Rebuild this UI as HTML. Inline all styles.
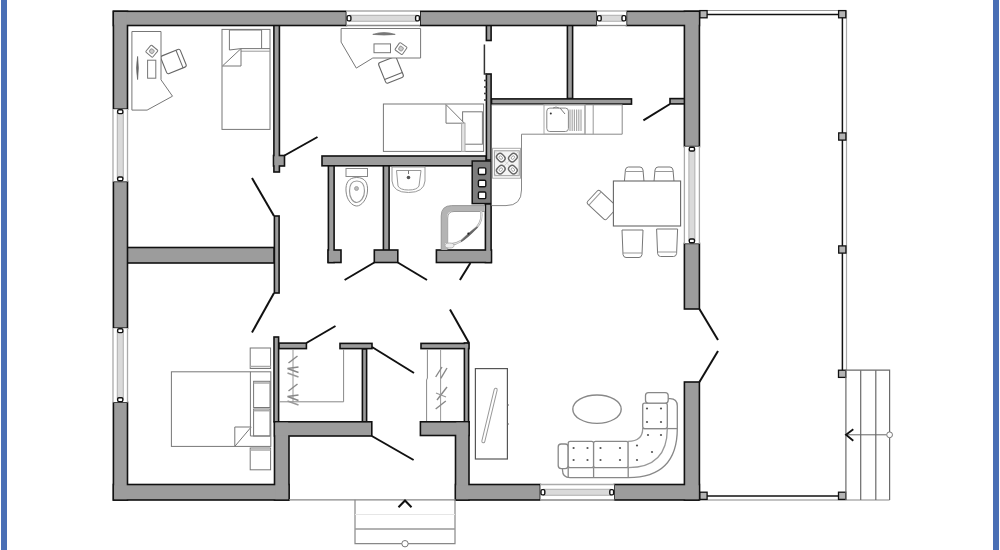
<!DOCTYPE html>
<html><head><meta charset="utf-8"><style>
html,body{margin:0;padding:0;background:#fff;}
body{width:1000px;height:550px;overflow:hidden;position:relative;font-family:"Liberation Sans",sans-serif;}
.bl{position:absolute;top:0;left:1px;width:6px;height:550px;background:#4a6fb5;}
.br{position:absolute;top:0;left:993px;width:6px;height:550px;background:#4a6fb5;}
svg{position:absolute;left:0;top:0;}
</style></head><body>
<div class="bl"></div><div class="br"></div>
<svg width="1000" height="550" viewBox="0 0 1000 550"><g stroke="#111" stroke-width="3.2" fill="#111" stroke-linejoin="miter"><rect x="114.2" y="12.1" width="231.5" height="12.6"/><rect x="420.8" y="12.1" width="175.2" height="12.6"/><rect x="627.2" y="12.1" width="71.4" height="12.6"/><rect x="114.2" y="12.1" width="12.5" height="96.3"/><rect x="114.2" y="182.2" width="12.5" height="145.2"/><rect x="114.2" y="403.0" width="12.5" height="96.2"/><rect x="114.2" y="485.3" width="174.0" height="13.9"/><rect x="275.3" y="422.6" width="12.9" height="76.6"/><rect x="275.3" y="422.6" width="95.7" height="12.6"/><rect x="421.2" y="422.6" width="47.0" height="12.1"/><rect x="456.3" y="422.6" width="11.9" height="76.6"/><rect x="456.3" y="485.3" width="83.3" height="13.9"/><rect x="615.0" y="485.3" width="83.6" height="13.9"/><rect x="685.2" y="12.1" width="13.4" height="133.7"/><rect x="685.2" y="244.2" width="13.4" height="64.0"/><rect x="685.2" y="382.8" width="13.4" height="116.4"/><rect x="274.7" y="26.3" width="3.9" height="144.9"/><rect x="274.3" y="156.3" width="9.4" height="8.9"/><rect x="275.2" y="216.8" width="3.1" height="75.4"/><rect x="128.3" y="248.3" width="144.9" height="13.9"/><rect x="274.8" y="337.8" width="3.0" height="83.2"/><rect x="279.8" y="343.9" width="25.8" height="3.9"/><rect x="340.8" y="344.2" width="30.4" height="3.6"/><rect x="363.2" y="349.8" width="2.6" height="71.2"/><rect x="421.8" y="344.2" width="46.4" height="3.6"/><rect x="465.2" y="343.8" width="2.6" height="77.2"/><rect x="322.8" y="156.8" width="162.4" height="8.2"/><rect x="329.2" y="166.6" width="4.1" height="95.1"/><rect x="328.8" y="250.8" width="11.4" height="10.9"/><rect x="384.2" y="166.6" width="4.1" height="82.6"/><rect x="375.1" y="250.8" width="21.9" height="10.9"/><rect x="486.2" y="204.6" width="4.1" height="57.1"/><rect x="437.2" y="250.8" width="53.5" height="10.9"/><rect x="487.2" y="26.3" width="3.1" height="13.4"/><rect x="487.2" y="74.8" width="3.1" height="84.4"/><rect x="492.3" y="99.7" width="138.4" height="3.6"/><rect x="568.2" y="26.3" width="3.6" height="71.4"/><rect x="670.8" y="99.4" width="12.8" height="3.7"/></g><g fill="#9c9c9c"><rect x="114.2" y="12.1" width="231.5" height="12.6"/><rect x="420.8" y="12.1" width="175.2" height="12.6"/><rect x="627.2" y="12.1" width="71.4" height="12.6"/><rect x="114.2" y="12.1" width="12.5" height="96.3"/><rect x="114.2" y="182.2" width="12.5" height="145.2"/><rect x="114.2" y="403.0" width="12.5" height="96.2"/><rect x="114.2" y="485.3" width="174.0" height="13.9"/><rect x="275.3" y="422.6" width="12.9" height="76.6"/><rect x="275.3" y="422.6" width="95.7" height="12.6"/><rect x="421.2" y="422.6" width="47.0" height="12.1"/><rect x="456.3" y="422.6" width="11.9" height="76.6"/><rect x="456.3" y="485.3" width="83.3" height="13.9"/><rect x="615.0" y="485.3" width="83.6" height="13.9"/><rect x="685.2" y="12.1" width="13.4" height="133.7"/><rect x="685.2" y="244.2" width="13.4" height="64.0"/><rect x="685.2" y="382.8" width="13.4" height="116.4"/><rect x="274.7" y="26.3" width="3.9" height="144.9"/><rect x="274.3" y="156.3" width="9.4" height="8.9"/><rect x="275.2" y="216.8" width="3.1" height="75.4"/><rect x="128.3" y="248.3" width="144.9" height="13.9"/><rect x="274.8" y="337.8" width="3.0" height="83.2"/><rect x="279.8" y="343.9" width="25.8" height="3.9"/><rect x="340.8" y="344.2" width="30.4" height="3.6"/><rect x="363.2" y="349.8" width="2.6" height="71.2"/><rect x="421.8" y="344.2" width="46.4" height="3.6"/><rect x="465.2" y="343.8" width="2.6" height="77.2"/><rect x="322.8" y="156.8" width="162.4" height="8.2"/><rect x="329.2" y="166.6" width="4.1" height="95.1"/><rect x="328.8" y="250.8" width="11.4" height="10.9"/><rect x="384.2" y="166.6" width="4.1" height="82.6"/><rect x="375.1" y="250.8" width="21.9" height="10.9"/><rect x="486.2" y="204.6" width="4.1" height="57.1"/><rect x="437.2" y="250.8" width="53.5" height="10.9"/><rect x="487.2" y="26.3" width="3.1" height="13.4"/><rect x="487.2" y="74.8" width="3.1" height="84.4"/><rect x="492.3" y="99.7" width="138.4" height="3.6"/><rect x="568.2" y="26.3" width="3.6" height="71.4"/><rect x="670.8" y="99.4" width="12.8" height="3.7"/></g><rect x="472.2" y="161" width="19" height="42.6" fill="#7c7c7c" stroke="#111" stroke-width="1.5"/><rect x="478.4" y="167.9" width="7.4" height="6.6" rx="1.2" fill="#fff" stroke="#111" stroke-width="1.4"/><rect x="478.4" y="180.2" width="7.4" height="6.6" rx="1.2" fill="#fff" stroke="#111" stroke-width="1.4"/><rect x="478.4" y="192" width="7.4" height="6.6" rx="1.2" fill="#fff" stroke="#111" stroke-width="1.4"/><rect x="346.5" y="10.25" width="73.5" height="16.0" fill="#fff"/><line x1="346.5" y1="11" x2="420" y2="11" stroke="#aaa" stroke-width="1.3"/><line x1="346.5" y1="25.5" x2="420" y2="25.5" stroke="#888" stroke-width="1.3"/><rect x="349.5" y="15.25" width="67.5" height="6" fill="#dadada" stroke="#a8a8a8" stroke-width="0.9"/><rect x="347.1" y="15.65" width="3.8" height="5.2" rx="1.3" fill="#fff" stroke="#111" stroke-width="1.4"/><rect x="415.6" y="15.65" width="3.8" height="5.2" rx="1.3" fill="#fff" stroke="#111" stroke-width="1.4"/><rect x="596.8" y="10.25" width="29.600000000000023" height="16.0" fill="#fff"/><line x1="596.8" y1="11" x2="626.4" y2="11" stroke="#aaa" stroke-width="1.3"/><line x1="596.8" y1="25.5" x2="626.4" y2="25.5" stroke="#888" stroke-width="1.3"/><rect x="599.8" y="15.25" width="23.600000000000023" height="6" fill="#dadada" stroke="#a8a8a8" stroke-width="0.9"/><rect x="597.4" y="15.65" width="3.8" height="5.2" rx="1.3" fill="#fff" stroke="#111" stroke-width="1.4"/><rect x="622.0" y="15.65" width="3.8" height="5.2" rx="1.3" fill="#fff" stroke="#111" stroke-width="1.4"/><rect x="540.4" y="483.75" width="73.80000000000007" height="17.0" fill="#fff"/><line x1="540.4" y1="484.5" x2="614.2" y2="484.5" stroke="#aaa" stroke-width="1.3"/><line x1="540.4" y1="500" x2="614.2" y2="500" stroke="#888" stroke-width="1.3"/><rect x="543.4" y="489.25" width="67.80000000000007" height="6" fill="#dadada" stroke="#a8a8a8" stroke-width="0.9"/><rect x="541.0" y="489.65" width="3.8" height="5.2" rx="1.3" fill="#fff" stroke="#111" stroke-width="1.4"/><rect x="609.8000000000001" y="489.65" width="3.8" height="5.2" rx="1.3" fill="#fff" stroke="#111" stroke-width="1.4"/><rect x="112.25" y="109.2" width="16.0" height="72.2" fill="#fff"/><line x1="113" y1="109.2" x2="113" y2="181.4" stroke="#aaa" stroke-width="1.3"/><line x1="127.5" y1="109.2" x2="127.5" y2="181.4" stroke="#aaa" stroke-width="1.3"/><rect x="117.25" y="112.2" width="6" height="66.2" fill="#dadada" stroke="#a8a8a8" stroke-width="0.9"/><rect x="117.65" y="109.8" width="5.2" height="3.8" rx="1.3" fill="#fff" stroke="#111" stroke-width="1.4"/><rect x="117.65" y="177.0" width="5.2" height="3.8" rx="1.3" fill="#fff" stroke="#111" stroke-width="1.4"/><rect x="112.25" y="328.2" width="16.0" height="74.0" fill="#fff"/><line x1="113" y1="328.2" x2="113" y2="402.2" stroke="#aaa" stroke-width="1.3"/><line x1="127.5" y1="328.2" x2="127.5" y2="402.2" stroke="#aaa" stroke-width="1.3"/><rect x="117.25" y="331.2" width="6" height="68.0" fill="#dadada" stroke="#a8a8a8" stroke-width="0.9"/><rect x="117.65" y="328.8" width="5.2" height="3.8" rx="1.3" fill="#fff" stroke="#111" stroke-width="1.4"/><rect x="117.65" y="397.8" width="5.2" height="3.8" rx="1.3" fill="#fff" stroke="#111" stroke-width="1.4"/><rect x="683.65" y="146.6" width="16.5" height="96.80000000000001" fill="#fff"/><line x1="684.4" y1="146.6" x2="684.4" y2="243.4" stroke="#aaa" stroke-width="1.3"/><line x1="699.4" y1="146.6" x2="699.4" y2="243.4" stroke="#aaa" stroke-width="1.3"/><rect x="688.9" y="149.6" width="6" height="90.80000000000001" fill="#dadada" stroke="#a8a8a8" stroke-width="0.9"/><rect x="689.3" y="147.2" width="5.2" height="3.8" rx="1.3" fill="#fff" stroke="#111" stroke-width="1.4"/><rect x="689.3" y="239.0" width="5.2" height="3.8" rx="1.3" fill="#fff" stroke="#111" stroke-width="1.4"/><g stroke="#111" stroke-width="2" stroke-linecap="butt"><line x1="284.5" y1="155.5" x2="317.5" y2="137"/><line x1="274" y1="216" x2="252" y2="178"/><line x1="274" y1="293" x2="252" y2="332.5"/><line x1="306.4" y1="343" x2="335.5" y2="326"/><line x1="372" y1="347" x2="414" y2="373"/><line x1="469" y1="343" x2="450" y2="309.6"/><line x1="374.3" y1="262.5" x2="344.6" y2="280"/><line x1="397.8" y1="262.5" x2="427" y2="280"/><line x1="470.4" y1="263" x2="459.9" y2="280"/><line x1="371.8" y1="436" x2="413.6" y2="460"/><line x1="670" y1="104" x2="643.4" y2="120.3"/><line x1="699.4" y1="309" x2="718" y2="340"/><line x1="699.4" y1="382" x2="718" y2="351"/></g><polyline points="484.4,44.5 484.4,74 487,74" fill="none" stroke="#333" stroke-width="1.5"/><g stroke="#444" stroke-width="1.6"><line x1="484" y1="80.5" x2="486.5" y2="80.5"/><line x1="484" y1="87" x2="486.5" y2="87"/><line x1="484" y1="93.5" x2="486.5" y2="93.5"/><line x1="484" y1="100" x2="486.5" y2="100"/></g><g transform="translate(173.5,61.5) rotate(-22)"><rect x="-10.5" y="-9.5" width="21.0" height="19.0" rx="2" fill="#fff" stroke="#666" stroke-width="1.1" /><line x1="6.5" y1="-9.5" x2="6.5" y2="9.5" stroke="#666" stroke-width="1" /></g><polygon points="131.9,31.5 161,31.5 161,79.8 172.5,96.2 147.1,110.1 131.9,110.1" fill="#fff" stroke="#777" stroke-width="1" /><path d="M137.6,56.5 Q135.6,68 137.6,79.5 Q139,68 137.6,56.5Z" fill="#666" stroke="#666" stroke-width="0.8"/><rect x="147.6" y="60.2" width="8.2" height="18.0" rx="0" fill="#fff" stroke="#777" stroke-width="1" /><g transform="translate(151.8,51.2) rotate(40)"><rect x="-4.5" y="-4.5" width="9.0" height="9.0" rx="1" fill="#fff" stroke="#777" stroke-width="1" /><rect x="-2" y="-2" width="4" height="4" rx="1" fill="#ccc" stroke="#999" stroke-width="1" /></g><rect x="222" y="29.4" width="48" height="100.0" rx="0" fill="#fff" stroke="#777" stroke-width="1" /><polyline points="241,48.6 229.4,50 229.4,30 261.6,30 261.6,48.6" fill="none" stroke="#777" stroke-width="1" /><polyline points="241,48.6 270,48.6" fill="none" stroke="#777" stroke-width="1" /><polyline points="241,51.2 270,51.2" fill="none" stroke="#999" stroke-width="1" /><polygon points="222.4,66 241,48.6 241,66" fill="#fff" stroke="#777" stroke-width="1" /><g transform="translate(391,70) rotate(-22)"><rect x="-9.5" y="-11" width="19.0" height="22" rx="2" fill="#fff" stroke="#666" stroke-width="1.1" /><line x1="-9.5" y1="6.5" x2="9.5" y2="6.5" stroke="#666" stroke-width="1" /></g><polygon points="341.1,28.5 420.6,28.5 420.6,58 372.8,58 356.3,68.1 341.1,42.1" fill="#fff" stroke="#777" stroke-width="1" /><path d="M372.8,34.4 Q384,30.8 395.2,34.4 Q384,35.6 372.8,34.4Z" fill="#777" stroke="#777" stroke-width="0.8"/><rect x="374" y="43.9" width="16.5" height="8.8" rx="0" fill="#fff" stroke="#777" stroke-width="1" /><g transform="translate(401,48.6) rotate(35)"><rect x="-4.5" y="-4.5" width="9.0" height="9.0" rx="1" fill="#fff" stroke="#777" stroke-width="1" /><rect x="-2" y="-2" width="4" height="4" rx="1" fill="#ccc" stroke="#999" stroke-width="1" /></g><rect x="383.4" y="104" width="100.2" height="47.4" rx="0" fill="#fff" stroke="#777" stroke-width="1" /><rect x="462.6" y="111.8" width="19.8" height="32.4" rx="0" fill="#fff" stroke="#777" stroke-width="1" /><polygon points="446,104.6 446,123.2 464.4,123.2" fill="#fff" stroke="#777" stroke-width="1" /><rect x="461.6" y="123.2" width="3.4" height="28.2" rx="0" fill="#e4e4e4" stroke="#aaa" stroke-width="1" /><rect x="250.2" y="348" width="20.4" height="20.5" rx="0" fill="#fff" stroke="#777" stroke-width="1" /><line x1="250.2" y1="366.5" x2="270.6" y2="366.5" stroke="#aaa" stroke-width="1.5" /><rect x="250.2" y="448" width="20.4" height="21.8" rx="0" fill="#fff" stroke="#777" stroke-width="1" /><line x1="250.2" y1="450" x2="270.6" y2="450" stroke="#aaa" stroke-width="1.5" /><rect x="171.4" y="371.8" width="99.4" height="74.6" rx="0" fill="#fff" stroke="#777" stroke-width="1" /><rect x="253.6" y="381.3" width="16.4" height="26.2" rx="0" fill="#fff" stroke="#777" stroke-width="1" /><line x1="253.6" y1="383" x2="270" y2="383" stroke="#aaa" stroke-width="1.5" /><rect x="253.6" y="409" width="16.4" height="27" rx="0" fill="#fff" stroke="#777" stroke-width="1" /><line x1="253.6" y1="410.7" x2="270" y2="410.7" stroke="#aaa" stroke-width="1.5" /><polyline points="250.4,371.8 250.4,436 270,436" fill="none" stroke="#777" stroke-width="1" /><polygon points="234.8,427 251.2,427 234.8,446.4" fill="#fff" stroke="#777" stroke-width="1" /><polyline points="279.5,401.8 343.6,401.8 343.6,349.5" fill="none" stroke="#888" stroke-width="1" /><line x1="293" y1="349.5" x2="293" y2="401.8" stroke="#999" stroke-width="1" /><polyline points="288.5,363 297.5,356" fill="none" stroke="#888" stroke-width="1.4" /><polyline points="298.5,367 287.5,368.5 298.5,372.5" fill="none" stroke="#888" stroke-width="1.4" /><polyline points="287.5,373 298.5,377" fill="none" stroke="#999" stroke-width="1.4" /><polyline points="288.5,391 297.5,384" fill="none" stroke="#888" stroke-width="1.4" /><polyline points="298.5,395 287.5,396.5 298.5,400.5" fill="none" stroke="#888" stroke-width="1.4" /><polyline points="287.5,401 298.5,405" fill="none" stroke="#999" stroke-width="1.4" /><polyline points="427.4,349.5 427.4,378 426.6,380 426.6,421" fill="none" stroke="#888" stroke-width="1" /><line x1="440.6" y1="349.5" x2="440.6" y2="421" stroke="#999" stroke-width="1" /><polyline points="435.7,377 442,367" fill="none" stroke="#888" stroke-width="1.4" /><polyline points="440.8,378.4 447,368" fill="none" stroke="#888" stroke-width="1.4" /><polyline points="437,400 447,387" fill="none" stroke="#888" stroke-width="1.4" /><polyline points="436,393 446,397" fill="none" stroke="#999" stroke-width="1.3" /><polyline points="435.7,409 445.8,401" fill="none" stroke="#888" stroke-width="1.4" /><rect x="346" y="168.5" width="21.5" height="8.0" rx="0" fill="#fff" stroke="#888" stroke-width="1" /><path d="M356.8,177.5 C365,177.5 368,183 367.5,191 C367,200 361,206 356.8,206 C352,206 346.5,200 346,191 C345.5,183 348.5,177.5 356.8,177.5Z" fill="#fff" stroke="#888" stroke-width="1"/><path d="M356.8,181 C362,181 364.5,185 364.5,191 C364.5,198 360,202.5 356.8,202.5 C353,202.5 349.5,198 349.5,191 C349.5,185 352,181 356.8,181Z" fill="#fff" stroke="#999" stroke-width="1.2"/><circle cx="356.5" cy="188.5" r="2" fill="#bbb" stroke="#999" stroke-width="0.8"/><path d="M392,167 L425,167 L425,181 Q424,192.5 408.5,192.5 Q393,192.5 392,181Z" fill="#fff" stroke="#999" stroke-width="1"/><path d="M396.5,170.5 L421,170.5 L419,186 Q417,190 408.5,190 Q400,190 398,186Z" fill="#fff" stroke="#999" stroke-width="1"/><circle cx="408.5" cy="177.5" r="1.8" fill="#555"/><line x1="408.5" y1="170.5" x2="408.5" y2="174" stroke="#777" stroke-width="1" /><path d="M444.2,250 L444.2,217 Q444.2,208.6 452.6,208.6 L485,208.6" fill="none" stroke="#b4b4b4" stroke-width="6"/><path d="M441.2,250 L441.2,216 Q441.2,205.6 451.6,205.6 L485,205.6" fill="none" stroke="#888" stroke-width="0.8"/><path d="M447.7,250 L447.7,218 Q447.7,211.5 454,211.5 L485,211.5" fill="none" stroke="#888" stroke-width="0.8"/><path d="M481,211 Q483,220 477,227 L461,241 Q453,246 445,243.5" fill="none" stroke="#aaa" stroke-width="2.2"/><path d="M481,211 Q483,220 477,227 L461,241 Q453,246 445,243.5" fill="none" stroke="#fff" stroke-width="0.7"/><path d="M477.5,227 Q471,231 461,241.5 Q467,238 477.5,227Z" fill="#fff" stroke="#666" stroke-width="1.1"/><circle cx="468.4" cy="233.6" r="1.1" fill="#222"/><ellipse cx="449.5" cy="245.5" rx="4.5" ry="2.5" fill="#eee" stroke="#aaa" stroke-width="0.9"/><path d="M491.7,104.8 L622.2,104.8 L622.2,134.2 L521.5,134.2 L521.5,190 Q521.5,205.6 506,205.6 L491.7,205.6" fill="#fff" stroke="#888" stroke-width="1"/><rect x="544" y="104.8" width="41" height="29.4" rx="0" fill="none" stroke="#aaa" stroke-width="1" /><rect x="546.8" y="108.1" width="21.6" height="23.4" rx="3" fill="#fff" stroke="#888" stroke-width="1" /><line x1="570.0" y1="109.5" x2="570.0" y2="131" stroke="#aaa" stroke-width="1.2" /><line x1="572.2" y1="109.5" x2="572.2" y2="131" stroke="#aaa" stroke-width="1.2" /><line x1="574.4" y1="109.5" x2="574.4" y2="131" stroke="#aaa" stroke-width="1.2" /><line x1="576.6" y1="109.5" x2="576.6" y2="131" stroke="#aaa" stroke-width="1.2" /><line x1="578.8" y1="109.5" x2="578.8" y2="131" stroke="#aaa" stroke-width="1.2" /><line x1="581.0" y1="109.5" x2="581.0" y2="131" stroke="#aaa" stroke-width="1.2" /><line x1="585" y1="104.8" x2="585" y2="134.2" stroke="#999" stroke-width="1" /><line x1="593.2" y1="104.8" x2="593.2" y2="134.2" stroke="#999" stroke-width="1" /><circle cx="550.8" cy="113.5" r="1" fill="#333"/><polyline points="553,108 556,107 559,108" fill="none" stroke="#888" stroke-width="1" /><line x1="560" y1="108" x2="565" y2="114" stroke="#777" stroke-width="1" /><rect x="492.5" y="148.3" width="28.0" height="29.9" rx="0" fill="#fff" stroke="#aaa" stroke-width="1" /><rect x="494.4" y="150.8" width="24.8" height="24.9" rx="0" fill="#f4f4f4" stroke="#999" stroke-width="1" /><line x1="494.4" y1="150.8" x2="519.2" y2="175.7" stroke="#ccc" stroke-width="0.8" /><line x1="519.2" y1="150.8" x2="494.4" y2="175.7" stroke="#ccc" stroke-width="0.8" /><g transform="translate(500.8,157.6) rotate(45)"><rect x="-4.4" y="-3.4" width="8.8" height="6.8" rx="3" fill="#fff" stroke="#666" stroke-width="1.4"/><ellipse rx="2" ry="1.4" fill="none" stroke="#999" stroke-width="0.9"/></g><g transform="translate(512.9,157.6) rotate(-45)"><rect x="-4.4" y="-3.4" width="8.8" height="6.8" rx="3" fill="#fff" stroke="#666" stroke-width="1.4"/><ellipse rx="2" ry="1.4" fill="none" stroke="#999" stroke-width="0.9"/></g><g transform="translate(500.8,169.6) rotate(-45)"><rect x="-4.4" y="-3.4" width="8.8" height="6.8" rx="3" fill="#fff" stroke="#666" stroke-width="1.4"/><ellipse rx="2" ry="1.4" fill="none" stroke="#999" stroke-width="0.9"/></g><g transform="translate(512.9,169.6) rotate(45)"><rect x="-4.4" y="-3.4" width="8.8" height="6.8" rx="3" fill="#fff" stroke="#666" stroke-width="1.4"/><ellipse rx="2" ry="1.4" fill="none" stroke="#999" stroke-width="0.9"/></g><path d="M624.4,181.5 L625.4,170 Q625.9,167 628.4,167 L640,167 Q642.5,167 643,170 L644,181.5" fill="#fff" stroke="#777" stroke-width="1"/><line x1="625.4" y1="171.5" x2="643" y2="171.5" stroke="#999" stroke-width="1" /><path d="M654,181.5 L655,170 Q655.5,167 658,167 L670,167 Q672.5,167 673,170 L674,181.5" fill="#fff" stroke="#777" stroke-width="1"/><line x1="655" y1="171.5" x2="673" y2="171.5" stroke="#999" stroke-width="1" /><path d="M622,230 L643,230 L642,254.5 Q641.5,257.5 639,257.5 L626,257.5 Q623.5,257.5 623,254.5 Z" fill="#fff" stroke="#777" stroke-width="1"/><line x1="623" y1="253.0" x2="642" y2="253.0" stroke="#999" stroke-width="1" /><path d="M656.6,229 L677.6,229 L676.6,253.5 Q676.1,256.5 673.6,256.5 L660.6,256.5 Q658.1,256.5 657.6,253.5 Z" fill="#fff" stroke="#777" stroke-width="1"/><line x1="657.6" y1="252.0" x2="676.6" y2="252.0" stroke="#999" stroke-width="1" /><g transform="translate(602,205) rotate(-47)"><rect x="-9" y="-13" width="18" height="26" rx="2" fill="#fff" stroke="#777" stroke-width="1" /><line x1="-9" y1="-9.5" x2="9" y2="-9.5" stroke="#999" stroke-width="1" /></g><rect x="613.4" y="181" width="67.2" height="45" rx="0" fill="#fff" stroke="#666" stroke-width="1.1" /><ellipse cx="597" cy="409.2" rx="24.2" ry="14.2" fill="#fff" stroke="#888" stroke-width="1.4"/><path d="M562.5,457 L562.5,470 Q562.5,477.7 570,477.7 L628.2,477.7 Q677.3,477.7 677.3,428.6 L677.3,406 Q677.3,398.6 670,398.6 L667.3,398.6" fill="#fff" stroke="#888" stroke-width="1.3"/><rect x="558.2" y="444" width="10.0" height="24.6" rx="3" fill="#fff" stroke="#888" stroke-width="1.3" /><rect x="568.2" y="441.4" width="25.4" height="26.3" rx="2" fill="#fff" stroke="#888" stroke-width="1.3" /><rect x="593.6" y="441.4" width="34.6" height="26.3" rx="2" fill="#fff" stroke="#888" stroke-width="1.3" /><path d="M628.2,441.4 Q642.7,441.4 642.7,428.6 L667.3,428.6 Q667.3,467.7 628.2,467.7Z" fill="#fff" stroke="#999" stroke-width="1.3"/><rect x="642.7" y="403.2" width="24.6" height="25.4" rx="2" fill="#fff" stroke="#888" stroke-width="1.3" /><rect x="645.5" y="392.6" width="22.7" height="10.6" rx="3" fill="#fff" stroke="#888" stroke-width="1.3" /><line x1="568.2" y1="467.7" x2="568.2" y2="477.7" stroke="#888" stroke-width="1.3" /><line x1="593.6" y1="467.7" x2="593.6" y2="477.7" stroke="#888" stroke-width="1.3" /><line x1="628.2" y1="467.7" x2="628.2" y2="477.7" stroke="#888" stroke-width="1.3" /><line x1="667.3" y1="428.6" x2="677.3" y2="428.6" stroke="#888" stroke-width="1.3" /><circle cx="573.6" cy="448" r="1.1" fill="#555"/><circle cx="587.5" cy="448" r="1.1" fill="#555"/><circle cx="573.6" cy="460" r="1.1" fill="#555"/><circle cx="587.5" cy="460" r="1.1" fill="#555"/><circle cx="600.5" cy="448" r="1.1" fill="#555"/><circle cx="620" cy="448" r="1.1" fill="#555"/><circle cx="600.5" cy="460" r="1.1" fill="#555"/><circle cx="620" cy="460" r="1.1" fill="#555"/><circle cx="647" cy="408.5" r="1.1" fill="#555"/><circle cx="661" cy="408.5" r="1.1" fill="#555"/><circle cx="647" cy="422" r="1.1" fill="#555"/><circle cx="661" cy="422" r="1.1" fill="#555"/><circle cx="648" cy="435" r="1.1" fill="#555"/><circle cx="661" cy="435" r="1.1" fill="#555"/><circle cx="637" cy="445.5" r="1.1" fill="#555"/><circle cx="652" cy="452" r="1.1" fill="#555"/><circle cx="637" cy="460" r="1.1" fill="#555"/><rect x="475.4" y="368.6" width="32.0" height="90.4" rx="0" fill="#fff" stroke="#555" stroke-width="1.2" /><g transform="translate(489.5,415.5) rotate(13.5)"><rect x="-1.5" y="-28" width="3.0" height="56" rx="1.5" fill="#fff" stroke="#999" stroke-width="1" /></g><line x1="507.4" y1="405" x2="509" y2="405" stroke="#666" stroke-width="1.2" /><line x1="507.4" y1="424" x2="509" y2="424" stroke="#666" stroke-width="1.2" /><line x1="700" y1="10.5" x2="845" y2="10.5" stroke="#999" stroke-width="1.2" /><line x1="704" y1="14.5" x2="842.4" y2="14.5" stroke="#111" stroke-width="1.5" /><line x1="842.4" y1="14" x2="842.4" y2="374" stroke="#111" stroke-width="1.5" /><line x1="846.5" y1="10.5" x2="846.5" y2="370" stroke="#aaa" stroke-width="1.2" /><line x1="704" y1="496" x2="842.4" y2="496" stroke="#111" stroke-width="1.5" /><line x1="699.4" y1="500" x2="889.6" y2="500" stroke="#888" stroke-width="1.2" /><rect x="699.9" y="10.6" width="7.2" height="7.2" rx="0" fill="#b4b4b4" stroke="#111" stroke-width="1.3" /><rect x="838.6" y="10.6" width="7.2" height="7.2" rx="0" fill="#b4b4b4" stroke="#111" stroke-width="1.3" /><rect x="838.6999999999999" y="132.9" width="7.2" height="7.2" rx="0" fill="#b4b4b4" stroke="#111" stroke-width="1.3" /><rect x="838.6999999999999" y="245.9" width="7.2" height="7.2" rx="0" fill="#b4b4b4" stroke="#111" stroke-width="1.3" /><rect x="838.5" y="370.2" width="7.2" height="7.2" rx="0" fill="#b4b4b4" stroke="#111" stroke-width="1.3" /><rect x="699.9" y="492.2" width="7.2" height="7.2" rx="0" fill="#b4b4b4" stroke="#111" stroke-width="1.3" /><rect x="838.5" y="492.2" width="7.2" height="7.2" rx="0" fill="#b4b4b4" stroke="#111" stroke-width="1.3" /><polyline points="845.9,370.2 889.6,370.2 889.6,500" fill="none" stroke="#6a6a6a" stroke-width="1.2" /><line x1="845.9" y1="370.2" x2="845.9" y2="500" stroke="#6a6a6a" stroke-width="1.2" /><line x1="860.7" y1="370.2" x2="860.7" y2="500" stroke="#6a6a6a" stroke-width="1.2" /><line x1="875.8" y1="370.2" x2="875.8" y2="500" stroke="#6a6a6a" stroke-width="1.2" /><line x1="846" y1="434.8" x2="886.6" y2="434.8" stroke="#666" stroke-width="1" /><circle cx="889.6" cy="434.8" r="2.9" fill="#fff" stroke="#777" stroke-width="1"/><polyline points="853.3,429.3 846,434.8 853.3,440.8" fill="none" stroke="#111" stroke-width="1.8" /><line x1="289" y1="499.8" x2="455.5" y2="499.8" stroke="#888" stroke-width="1.2" /><polyline points="355,499.8 355,543.7 455,543.7 455,499.8" fill="none" stroke="#888" stroke-width="1.2" /><line x1="355" y1="514.5" x2="455" y2="514.5" stroke="#e6e6e6" stroke-width="1" /><line x1="355" y1="529" x2="455" y2="529" stroke="#999" stroke-width="1.4" /><circle cx="405" cy="543.7" r="3.2" fill="#fff" stroke="#777" stroke-width="1"/><polyline points="398.5,507.3 405,500.5 411.5,507.3" fill="none" stroke="#111" stroke-width="2" /></svg>
</body></html>
